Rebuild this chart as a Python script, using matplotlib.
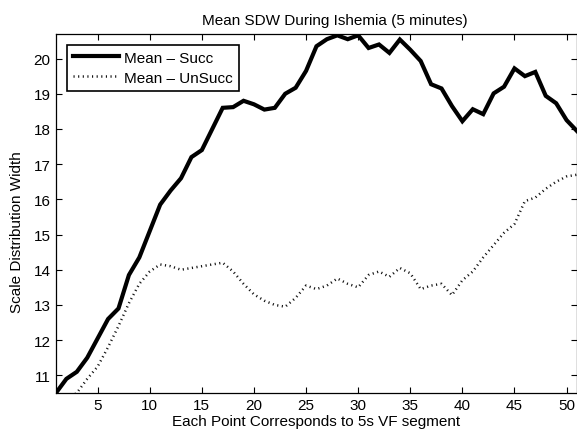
import numpy as np
import matplotlib
matplotlib.use("Agg")
import matplotlib.pyplot as plt

plt.rcParams['font.family'] = ['Liberation Sans', 'DejaVu Sans']

# segment index (each point = 5 s of VF)
segments = np.arange(1, 52)

# mean scale distribution width, successful defibrillation
mean_succ = [10.5, 10.9, 11.1, 11.5, 12.05, 12.6, 12.9, 13.85, 14.35, 15.1,
             15.85, 16.25, 16.6, 17.2, 17.4, 18.0, 18.6, 18.62, 18.8, 18.7,
             18.55, 18.6, 19.0, 19.17, 19.65, 20.35, 20.55, 20.66, 20.55, 20.66,
             20.3, 20.4, 20.16, 20.54, 20.25, 19.93, 19.27, 19.15, 18.65, 18.22,
             18.56, 18.42, 19.01, 19.2, 19.72, 19.5, 19.62, 18.94, 18.73, 18.25,
             17.94]

# mean scale distribution width, unsuccessful defibrillation
mean_unsucc = [10.1, 10.3, 10.5, 10.9, 11.25, 11.8, 12.4, 13.05, 13.6, 13.95,
               14.15, 14.1, 14.0, 14.05, 14.1, 14.15, 14.2, 13.95, 13.6, 13.3,
               13.12, 13.0, 12.95, 13.2, 13.55, 13.45, 13.55, 13.75, 13.6, 13.5,
               13.85, 13.95, 13.8, 14.05, 13.9, 13.45, 13.55, 13.6, 13.28, 13.7,
               13.95, 14.35, 14.7, 15.05, 15.3, 15.95, 16.05, 16.3, 16.5, 16.65,
               16.7]

fs = 11

fig = plt.figure(figsize=(5.77, 4.31), dpi=100)
ax = fig.add_axes([0.097, 0.086, 0.903, 0.833])

ax.plot(segments, mean_succ, color='black', linewidth=3.0,
        solid_joinstyle='miter', label='Mean \u2013 Succ')
ax.plot(segments, mean_unsucc, color='#111111', linewidth=1.8,
        linestyle=(0, (0.45, 1.4)), dash_capstyle='butt', label='Mean \u2013 UnSucc')

ax.set_xlim(1, 51)
ax.set_ylim(10.5, 20.7)
ax.set_xticks(np.arange(5, 51, 5))
ax.set_yticks(np.arange(11, 21, 1))
ax.tick_params(direction='in', top=True, right=True, length=4, width=0.8,
               labelsize=fs, pad=4)
for s in ax.spines.values():
    s.set_linewidth(0.9)

ax.set_xlabel('Each Point Corresponds to 5s VF segment', fontsize=fs, labelpad=1)
ax.set_ylabel('Scale Distribution Width', fontsize=fs)
ax.yaxis.set_label_coords(-0.062, 0.45)
ax.set_title('Mean SDW During Ishemia (5 minutes)', fontsize=fs, x=0.535, pad=7)

leg = ax.legend(loc='upper left', fontsize=fs, fancybox=False, framealpha=1,
                edgecolor='black', borderpad=0.4, handlelength=3.0,
                handletextpad=0.35, borderaxespad=0.7, labelspacing=0.4)
leg.get_frame().set_linewidth(1.2)

fig.savefig('out.png', dpi=100)
